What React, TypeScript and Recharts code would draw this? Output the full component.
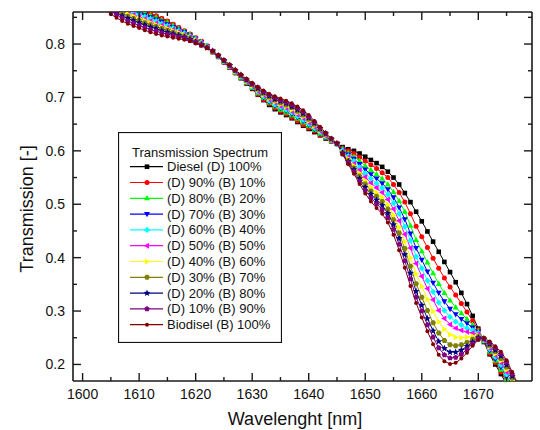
import React from 'react';
import { LineChart, Line, XAxis, YAxis, Legend } from 'recharts';

const wavelength = [
  1603, 1604, 1605, 1606, 1607, 1608, 1609, 1610, 1611, 1612, 1613, 1614, 1615, 1616, 1617,
  1618, 1619, 1620, 1621, 1622, 1623, 1624, 1625, 1626, 1627, 1628, 1629, 1630, 1631, 1632,
  1633, 1634, 1635, 1636, 1637, 1638, 1639, 1640, 1641, 1642, 1643, 1644, 1645, 1646, 1647,
  1648, 1649, 1650, 1651, 1652, 1653, 1654, 1655, 1656, 1657, 1658, 1659, 1660, 1661, 1662,
  1663, 1664, 1665, 1666, 1667, 1668, 1669, 1670, 1671, 1672, 1673, 1674, 1675, 1676, 1677,
];

const diesel100 = [
  0.904, 0.897, 0.891, 0.885, 0.879, 0.873, 0.868, 0.864, 0.860, 0.856, 0.852, 0.847, 0.842, 0.836, 0.830, 0.824, 0.818, 0.811, 0.804, 0.796,
  0.785, 0.776, 0.766, 0.756, 0.746, 0.736, 0.726, 0.716, 0.705, 0.695, 0.686, 0.678, 0.672, 0.667, 0.661, 0.654, 0.647, 0.641, 0.635, 0.629, 0.623, 0.618, 0.613,
  0.607, 0.603, 0.600, 0.595, 0.589, 0.583, 0.577, 0.570, 0.561, 0.550, 0.537, 0.521, 0.504, 0.486, 0.468, 0.449, 0.430, 0.411, 0.392, 0.373, 0.354, 0.334, 0.313, 0.291, 0.267, 0.242, 0.219, 0.200, 0.182, 0.163, 0.145, 0.128,
];
const d90b10 = [
  0.905, 0.898, 0.892, 0.886, 0.880, 0.874, 0.869, 0.865, 0.861, 0.857, 0.853, 0.848, 0.843, 0.837, 0.831, 0.825, 0.819, 0.812, 0.805, 0.797,
  0.785, 0.776, 0.766, 0.756, 0.746, 0.737, 0.727, 0.717, 0.706, 0.696, 0.688, 0.680, 0.674, 0.669, 0.663, 0.656, 0.649, 0.643, 0.637, 0.630, 0.624, 0.618, 0.613,
  0.605, 0.600, 0.595, 0.588, 0.581, 0.574, 0.567, 0.559, 0.550, 0.537, 0.522, 0.504, 0.482, 0.459, 0.439, 0.419, 0.399, 0.380, 0.362, 0.345, 0.330, 0.314, 0.298, 0.282, 0.265, 0.243, 0.221, 0.203, 0.186, 0.168, 0.149, 0.132,
];
const d80b20 = [
  0.903, 0.895, 0.889, 0.883, 0.877, 0.871, 0.866, 0.862, 0.858, 0.854, 0.850, 0.845, 0.841, 0.835, 0.829, 0.824, 0.818, 0.811, 0.804, 0.797,
  0.785, 0.777, 0.767, 0.757, 0.747, 0.737, 0.728, 0.718, 0.708, 0.699, 0.690, 0.683, 0.677, 0.672, 0.667, 0.660, 0.653, 0.646, 0.639, 0.632, 0.625, 0.619, 0.613,
  0.604, 0.596, 0.589, 0.581, 0.572, 0.564, 0.556, 0.548, 0.537, 0.523, 0.506, 0.486, 0.460, 0.433, 0.412, 0.391, 0.371, 0.351, 0.334, 0.320, 0.307, 0.296, 0.285, 0.274, 0.263, 0.244, 0.224, 0.207, 0.190, 0.172, 0.153, 0.135,
];
const d70b30 = [
  0.899, 0.891, 0.885, 0.879, 0.873, 0.867, 0.862, 0.858, 0.854, 0.850, 0.846, 0.842, 0.837, 0.832, 0.827, 0.822, 0.816, 0.810, 0.803, 0.796,
  0.786, 0.777, 0.767, 0.758, 0.748, 0.738, 0.729, 0.719, 0.710, 0.700, 0.692, 0.685, 0.680, 0.675, 0.669, 0.663, 0.656, 0.649, 0.641, 0.634, 0.626, 0.620, 0.613,
  0.602, 0.593, 0.585, 0.575, 0.565, 0.556, 0.548, 0.539, 0.528, 0.513, 0.494, 0.472, 0.445, 0.418, 0.396, 0.374, 0.353, 0.334, 0.318, 0.304, 0.294, 0.285, 0.277, 0.269, 0.261, 0.244, 0.226, 0.210, 0.195, 0.177, 0.157, 0.139,
];
const d60b40 = [
  0.896, 0.888, 0.881, 0.875, 0.869, 0.863, 0.859, 0.855, 0.851, 0.847, 0.843, 0.838, 0.834, 0.830, 0.825, 0.820, 0.815, 0.809, 0.803, 0.796,
  0.786, 0.777, 0.768, 0.758, 0.748, 0.739, 0.729, 0.720, 0.711, 0.702, 0.694, 0.687, 0.682, 0.677, 0.672, 0.665, 0.658, 0.651, 0.643, 0.635, 0.627, 0.620, 0.613,
  0.601, 0.590, 0.581, 0.569, 0.558, 0.548, 0.539, 0.530, 0.518, 0.502, 0.482, 0.458, 0.432, 0.402, 0.380, 0.357, 0.336, 0.316, 0.301, 0.289, 0.280, 0.274, 0.268, 0.264, 0.259, 0.245, 0.229, 0.214, 0.199, 0.181, 0.161, 0.142,
];
const d50b50 = [
  0.893, 0.885, 0.878, 0.871, 0.865, 0.860, 0.855, 0.851, 0.847, 0.843, 0.839, 0.835, 0.831, 0.827, 0.823, 0.818, 0.813, 0.808, 0.802, 0.795,
  0.786, 0.777, 0.768, 0.758, 0.749, 0.739, 0.730, 0.721, 0.712, 0.704, 0.696, 0.690, 0.684, 0.680, 0.674, 0.668, 0.661, 0.653, 0.645, 0.637, 0.628, 0.620, 0.613,
  0.599, 0.588, 0.576, 0.564, 0.551, 0.540, 0.531, 0.522, 0.509, 0.491, 0.469, 0.444, 0.418, 0.389, 0.365, 0.342, 0.321, 0.301, 0.286, 0.275, 0.268, 0.264, 0.261, 0.259, 0.257, 0.246, 0.231, 0.217, 0.203, 0.186, 0.165, 0.146,
];
const d40b60 = [
  0.890, 0.882, 0.874, 0.868, 0.862, 0.856, 0.852, 0.848, 0.844, 0.840, 0.836, 0.832, 0.829, 0.825, 0.821, 0.817, 0.812, 0.807, 0.801, 0.795,
  0.786, 0.778, 0.768, 0.759, 0.749, 0.740, 0.731, 0.722, 0.714, 0.705, 0.698, 0.692, 0.687, 0.683, 0.677, 0.671, 0.664, 0.656, 0.647, 0.638, 0.629, 0.621, 0.614,
  0.598, 0.585, 0.572, 0.558, 0.544, 0.532, 0.522, 0.513, 0.499, 0.480, 0.457, 0.430, 0.400, 0.370, 0.346, 0.322, 0.299, 0.280, 0.266, 0.256, 0.251, 0.250, 0.251, 0.253, 0.254, 0.247, 0.233, 0.220, 0.207, 0.190, 0.170, 0.149,
];
const d30b70 = [
  0.887, 0.878, 0.870, 0.864, 0.858, 0.852, 0.848, 0.844, 0.840, 0.836, 0.833, 0.829, 0.826, 0.822, 0.818, 0.815, 0.811, 0.805, 0.800, 0.794,
  0.786, 0.778, 0.769, 0.760, 0.750, 0.741, 0.732, 0.724, 0.716, 0.708, 0.701, 0.695, 0.690, 0.686, 0.681, 0.674, 0.667, 0.659, 0.650, 0.640, 0.631, 0.622, 0.614,
  0.597, 0.582, 0.568, 0.553, 0.538, 0.525, 0.515, 0.505, 0.491, 0.471, 0.446, 0.417, 0.384, 0.351, 0.326, 0.301, 0.278, 0.259, 0.245, 0.237, 0.235, 0.237, 0.241, 0.247, 0.252, 0.248, 0.236, 0.224, 0.211, 0.195, 0.174, 0.153,
];
const d20b80 = [
  0.883, 0.874, 0.866, 0.859, 0.853, 0.848, 0.844, 0.840, 0.836, 0.832, 0.829, 0.825, 0.822, 0.819, 0.816, 0.813, 0.809, 0.804, 0.799, 0.793,
  0.787, 0.778, 0.769, 0.760, 0.751, 0.742, 0.733, 0.725, 0.717, 0.709, 0.703, 0.697, 0.693, 0.689, 0.683, 0.677, 0.670, 0.662, 0.652, 0.642, 0.632, 0.622, 0.614,
  0.596, 0.580, 0.565, 0.548, 0.532, 0.519, 0.508, 0.498, 0.483, 0.462, 0.436, 0.406, 0.371, 0.337, 0.311, 0.286, 0.263, 0.243, 0.230, 0.223, 0.223, 0.227, 0.234, 0.242, 0.250, 0.248, 0.238, 0.227, 0.216, 0.199, 0.178, 0.156,
];
const d10b90 = [
  0.880, 0.870, 0.861, 0.855, 0.849, 0.843, 0.839, 0.835, 0.831, 0.827, 0.824, 0.821, 0.818, 0.816, 0.813, 0.811, 0.807, 0.803, 0.798, 0.793,
  0.787, 0.779, 0.770, 0.761, 0.751, 0.742, 0.734, 0.726, 0.719, 0.711, 0.705, 0.700, 0.695, 0.691, 0.686, 0.680, 0.673, 0.664, 0.654, 0.643, 0.633, 0.623, 0.614,
  0.594, 0.578, 0.561, 0.543, 0.526, 0.512, 0.501, 0.490, 0.475, 0.453, 0.425, 0.394, 0.360, 0.326, 0.300, 0.274, 0.251, 0.231, 0.218, 0.212, 0.213, 0.219, 0.228, 0.239, 0.248, 0.249, 0.241, 0.231, 0.220, 0.204, 0.182, 0.160,
];
const biodiesel100 = [
  0.875, 0.865, 0.856, 0.849, 0.843, 0.838, 0.834, 0.830, 0.826, 0.822, 0.819, 0.816, 0.814, 0.812, 0.810, 0.808, 0.805, 0.801, 0.797, 0.792,
  0.787, 0.779, 0.770, 0.761, 0.752, 0.743, 0.735, 0.727, 0.720, 0.713, 0.707, 0.702, 0.698, 0.694, 0.689, 0.683, 0.676, 0.667, 0.656, 0.645, 0.634, 0.623, 0.614,
  0.593, 0.575, 0.557, 0.538, 0.520, 0.505, 0.493, 0.482, 0.466, 0.443, 0.414, 0.381, 0.347, 0.315, 0.288, 0.262, 0.238, 0.218, 0.206, 0.201, 0.203, 0.211, 0.222, 0.235, 0.246, 0.250, 0.243, 0.234, 0.224, 0.208, 0.186, 0.163,
];

const seriesLabels = [
  'Diesel (D) 100%',
  '(D) 90% (B) 10%',
  '(D) 80% (B) 20%',
  '(D) 70% (B) 30%',
  '(D) 60% (B) 40%',
  '(D) 50% (B) 50%',
  '(D) 40% (B) 60%',
  '(D) 30% (B) 70%',
  '(D) 20% (B) 80%',
  '(D) 10% (B) 90%',
  'Biodisel (B) 100%',
];
const legendTitle = 'Transmission Spectrum';
const xTitle = 'Wavelenght [nm]';
const yTitle = 'Transmission [-]';

const xTicks = [1600, 1605, 1610, 1615, 1620, 1625, 1630, 1635, 1640, 1645, 1650, 1655, 1660, 1665, 1670, 1675];
const yTicks = [0.2, 0.25, 0.3, 0.35, 0.4, 0.45, 0.5, 0.55, 0.6, 0.65, 0.7, 0.75, 0.8, 0.85];

const seriesValues = [diesel100, d90b10, d80b20, d70b30, d60b40, d50b50, d40b60, d30b70, d20b80, d10b90, biodiesel100];
const seriesColors = ['#000000', '#ff0000', '#00ff00', '#0000ff', '#00ffff', '#ff00ff', '#ffff00', '#808000', '#000080', '#800080', '#800000'];
const seriesShapes = ['square', 'circle', 'up', 'down', 'diamond', 'left', 'right', 'hexagon', 'star', 'pentagon', 'smallcircle'];

const data = wavelength.map((w, i) => {
  const row: any = { w };
  seriesValues.forEach((arr, k) => {
    row['s' + k] = arr[i];
  });
  return row;
});

const FONT = '"Liberation Sans", Arial, Helvetica, sans-serif';
const AXIS = '#1a1a1a';

function poly(cx: number, cy: number, n: number, r: number, rot: number) {
  const pts: string[] = [];
  for (let i = 0; i < n; i++) {
    const a = rot + (i * 2 * Math.PI) / n;
    pts.push(`${cx + r * Math.cos(a)},${cy + r * Math.sin(a)}`);
  }
  return pts.join(' ');
}

function starPts(cx: number, cy: number, ro: number, ri: number) {
  const pts: string[] = [];
  for (let i = 0; i < 10; i++) {
    const r = i % 2 === 0 ? ro : ri;
    const a = -Math.PI / 2 + (i * Math.PI) / 5;
    pts.push(`${cx + r * Math.cos(a)},${cy + r * Math.sin(a)}`);
  }
  return pts.join(' ');
}

function Marker({ shape, cx, cy, color }: { shape: string; cx: number; cy: number; color: string }) {
  const s = 2.3;
  switch (shape) {
    case 'square':
      return <rect x={cx - s} y={cy - s} width={2 * s} height={2 * s} fill={color} />;
    case 'circle':
      return <circle cx={cx} cy={cy} r={s + 0.2} fill={color} />;
    case 'up':
      return <polygon points={`${cx},${cy - 1.4 * s} ${cx + 1.3 * s},${cy + 0.9 * s} ${cx - 1.3 * s},${cy + 0.9 * s}`} fill={color} />;
    case 'down':
      return <polygon points={`${cx},${cy + 1.4 * s} ${cx + 1.3 * s},${cy - 0.9 * s} ${cx - 1.3 * s},${cy - 0.9 * s}`} fill={color} />;
    case 'diamond':
      return <polygon points={`${cx},${cy - 1.35 * s} ${cx + 1.35 * s},${cy} ${cx},${cy + 1.35 * s} ${cx - 1.35 * s},${cy}`} fill={color} />;
    case 'left':
      return <polygon points={`${cx - 1.4 * s},${cy} ${cx + 0.9 * s},${cy - 1.3 * s} ${cx + 0.9 * s},${cy + 1.3 * s}`} fill={color} />;
    case 'right':
      return <polygon points={`${cx + 1.4 * s},${cy} ${cx - 0.9 * s},${cy - 1.3 * s} ${cx - 0.9 * s},${cy + 1.3 * s}`} fill={color} />;
    case 'hexagon':
      return <polygon points={poly(cx, cy, 6, 1.25 * s, 0)} fill={color} />;
    case 'star':
      return <polygon points={starPts(cx, cy, 1.6 * s, 0.7 * s)} fill={color} />;
    case 'pentagon':
      return <polygon points={poly(cx, cy, 5, 1.25 * s, -Math.PI / 2)} fill={color} />;
    default:
      return <circle cx={cx} cy={cy} r={2} fill={color} />;
  }
}

function makeDot(shape: string, color: string) {
  return (props: any) => {
    const { cx, cy, index } = props;
    if (cx == null || cy == null || isNaN(cx) || isNaN(cy)) return <g key={'e' + index} />;
    return (
      <g key={'d' + index}>
        <Marker shape={shape} cx={cx} cy={cy} color={color} />
      </g>
    );
  };
}

const isMajor = (v: number, step: number) => Math.abs(v / step - Math.round(v / step)) < 1e-6;

const BottomTick = (props: any) => {
  const { x, y, payload } = props;
  const v = payload.value;
  const major = isMajor(v, 10);
  return (
    <g>
      <line x1={x} x2={x} y1={y} y2={y - (major ? 8 : 4)} stroke={AXIS} strokeWidth={1.4} />
      {major && (
        <text x={x} y={y + 18} textAnchor="middle" fontSize={14} fill="#111" fontFamily={FONT}>
          {v}
        </text>
      )}
    </g>
  );
};

const TopTick = (props: any) => {
  const { x, y, payload } = props;
  const major = isMajor(payload.value, 10);
  return <line x1={x} x2={x} y1={y} y2={y + (major ? 8 : 4)} stroke={AXIS} strokeWidth={1.4} />;
};

const LeftTick = (props: any) => {
  const { x, y, payload } = props;
  const v = payload.value;
  const major = isMajor(v, 0.1);
  return (
    <g>
      <line x1={x} x2={x + (major ? 8 : 4)} y1={y} y2={y} stroke={AXIS} strokeWidth={1.4} />
      {major && (
        <text x={x - 8} y={y + 5} textAnchor="end" fontSize={14} fill="#111" fontFamily={FONT}>
          {v.toFixed(1)}
        </text>
      )}
    </g>
  );
};

const RightTick = (props: any) => {
  const { x, y, payload } = props;
  const major = isMajor(payload.value, 0.1);
  return <line x1={x} x2={x - (major ? 8 : 4)} y1={y} y2={y} stroke={AXIS} strokeWidth={1.4} />;
};

const XTitle = () => (
  <text x={295} y={425} textAnchor="middle" fontSize={18} fill="#111" fontFamily={FONT}>
    {xTitle}
  </text>
);

const YTitle = () => (
  <text
    x={27}
    y={209}
    transform="rotate(-90 27 209)"
    textAnchor="middle"
    dominantBaseline="central"
    fontSize={18}
    fill="#111"
    fontFamily={FONT}
  >
    {yTitle}
  </text>
);

const LegendBox = () => {
  const w = 164;
  const h = 211;
  return (
    <svg width={w} height={h} style={{ display: 'block' }}>
      <rect x={0.5} y={0.5} width={w - 1} height={h - 1} fill="#fff" stroke="#111" strokeWidth={1.2} />
      <text x={14} y={25} fontSize={13} fill="#111" fontFamily={FONT}>
        {legendTitle}
      </text>
      {seriesLabels.map((label, i) => {
        const cy = 34.7 + i * 15.8;
        return (
          <g key={label}>
            <line x1={12} x2={45} y1={cy} y2={cy} stroke={seriesColors[i]} strokeWidth={1.2} />
            <Marker shape={seriesShapes[i]} cx={29} cy={cy} color={seriesColors[i]} />
            <text x={49} y={cy + 4.5} fontSize={13} fill="#111" fontFamily={FONT}>
              {label}
            </text>
          </g>
        );
      })}
    </svg>
  );
};

const X_DOMAIN: [number, number] = [1598.3, 1679.5];
const Y_DOMAIN: [number, number] = [0.169, 0.86];

export default function App() {
  return (
    <div style={{ position: 'absolute', left: 0, top: 0, width: 540, height: 430, background: '#fff', fontFamily: FONT }}>
      <LineChart width={540} height={430} data={data} margin={{ top: 11, right: 7, bottom: 19, left: 13 }}>
        <XAxis
          xAxisId="bottom"
          dataKey="w"
          type="number"
          domain={X_DOMAIN}
          allowDataOverflow
          ticks={xTicks}
          interval={0}
          tickSize={0}
          tickMargin={0}
          tickLine={false}
          tick={<BottomTick />}
          height={30}
          axisLine={{ stroke: AXIS, strokeWidth: 1.6 }}
          label={<XTitle />}
        />
        <XAxis
          xAxisId="top"
          orientation="top"
          dataKey="w"
          type="number"
          domain={X_DOMAIN}
          allowDataOverflow
          ticks={xTicks}
          interval={0}
          tickSize={0}
          tickMargin={0}
          tickLine={false}
          tick={<TopTick />}
          height={1}
          axisLine={{ stroke: AXIS, strokeWidth: 1.6 }}
        />
        <YAxis
          yAxisId="left"
          type="number"
          domain={Y_DOMAIN}
          allowDataOverflow
          ticks={yTicks}
          interval={0}
          tickSize={0}
          tickMargin={0}
          tickLine={false}
          tick={<LeftTick />}
          width={60}
          axisLine={{ stroke: AXIS, strokeWidth: 1.6 }}
          label={<YTitle />}
        />
        <YAxis
          yAxisId="right"
          orientation="right"
          type="number"
          domain={Y_DOMAIN}
          allowDataOverflow
          ticks={yTicks}
          interval={0}
          tickSize={0}
          tickMargin={0}
          tickLine={false}
          tick={<RightTick />}
          width={1}
          axisLine={{ stroke: AXIS, strokeWidth: 1.6 }}
        />
        <Legend
          layout="vertical"
          align="center"
          verticalAlign="middle"
          wrapperStyle={{ left: 118, top: 132, width: 164, height: 211 }}
          content={() => <LegendBox />}
        />
        <Line
          xAxisId="top"
          yAxisId="right"
          dataKey="s0"
          stroke="none"
          dot={false}
          activeDot={false}
          legendType="none"
          isAnimationActive={false}
        />
        {seriesValues.map((_, k) => (
          <Line
            key={'s' + k}
            xAxisId="bottom"
            yAxisId="left"
            dataKey={'s' + k}
            name={seriesLabels[k]}
            type="linear"
            stroke={seriesColors[k]}
            strokeWidth={1}
            dot={makeDot(seriesShapes[k], seriesColors[k])}
            activeDot={false}
            isAnimationActive={false}
          />
        ))}
      </LineChart>
    </div>
  );
}
